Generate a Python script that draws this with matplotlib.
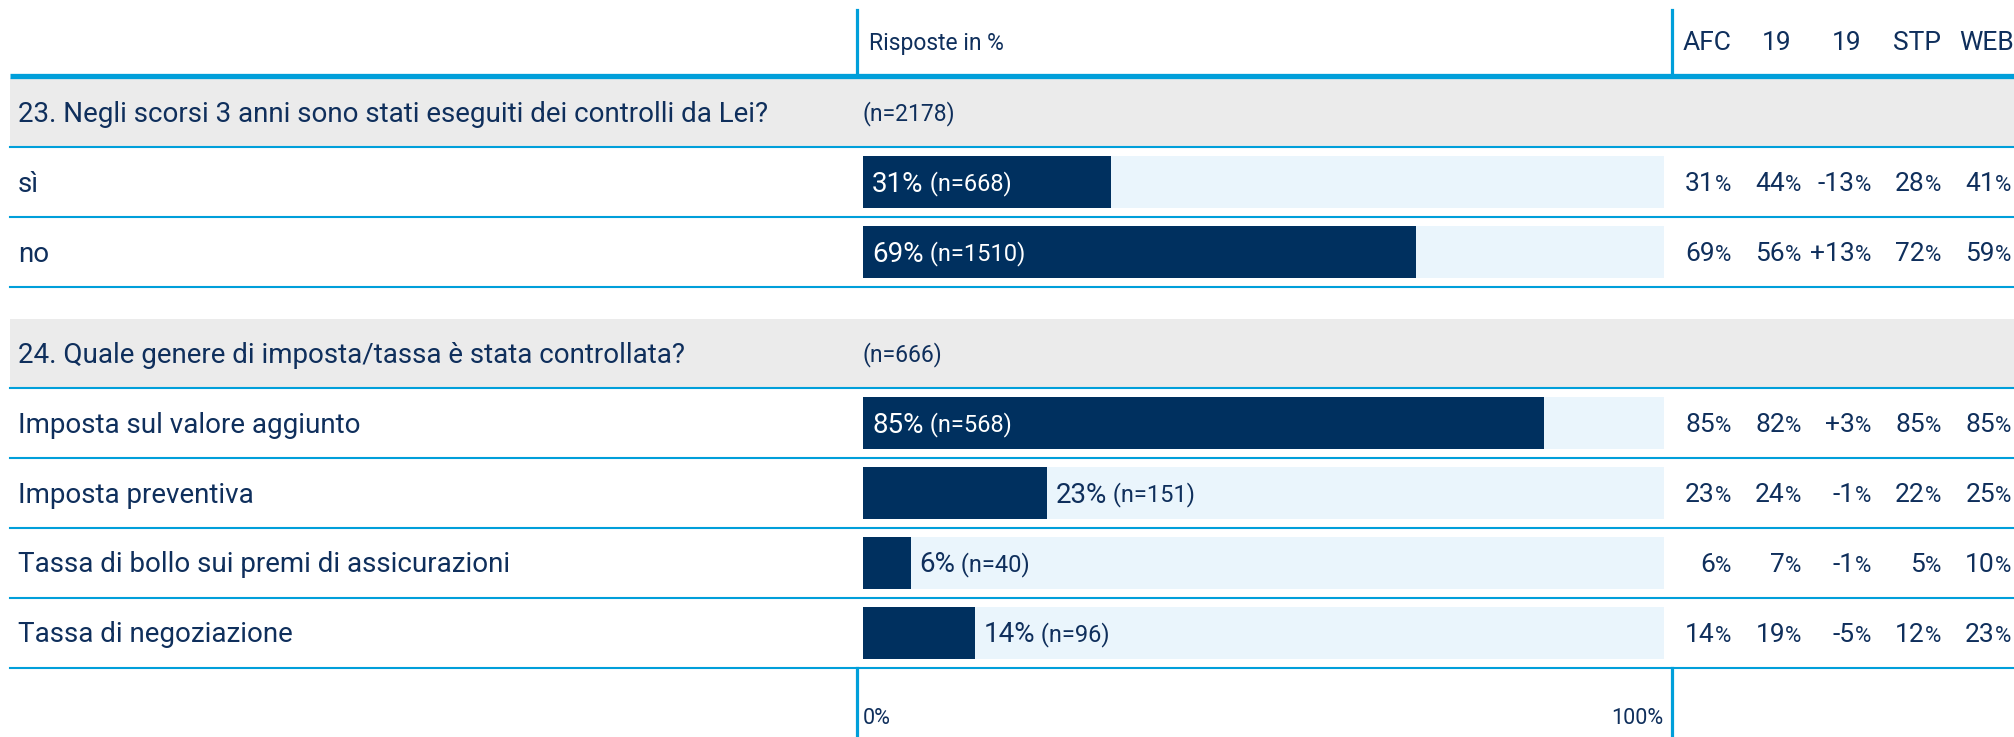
import matplotlib
matplotlib.use("Agg")
import matplotlib.pyplot as plt
from matplotlib import font_manager

# data
columns = ["AFC", "19", "19", "STP", "WEB"]

q23_title = "23. Negli scorsi 3 anni sono stati eseguiti dei controlli da Lei?"
q23_n = 2178
q23_labels = ["sì", "no"]
q23_pct = [31, 69]
q23_count = [668, 1510]
q23_cols = [[31, 44, -13, 28, 41],
            [69, 56, 13, 72, 59]]

q24_title = "24. Quale genere di imposta/tassa è stata controllata?"
q24_n = 666
q24_labels = ["Imposta sul valore aggiunto", "Imposta preventiva",
              "Tassa di bollo sui premi di assicurazioni", "Tassa di negoziazione"]
q24_pct = [85, 23, 6, 14]
q24_count = [568, 151, 40, 96]
q24_cols = [[85, 82, 3, 85, 85],
            [23, 24, -1, 22, 25],
            [6, 7, -1, 5, 10],
            [14, 19, -5, 12, 23]]

# styling
names = {f.name for f in font_manager.fontManager.ttflist}
fam = [f for f in ["Roboto", "DejaVu Sans"] if f in names]
plt.rcParams["font.family"] = fam

NAVY = "#00305f"
TXT = "#0f2f5c"
LIGHT = "#eaf5fc"
BLUE = "#009fda"
GREY = "#ebebeb"

W, H = 2015, 737
fig = plt.figure(figsize=(W / 100, H / 100), dpi=100)
ax = fig.add_axes([0, 0, 1, 1])
ax.set_xlim(0, W)
ax.set_ylim(H, 0)
ax.axis("off")

# bar axes: 0..100 % across the track
track_l, track_r = 863, 1664
bx = fig.add_axes([track_l / W, 0, (track_r - track_l) / W, 1])
bx.set_xlim(0, 100)
bx.set_ylim(H, 0)
bx.axis("off")

left, right = 10, W
col_x = [1707, 1777, 1847, 1917, 1987]
pitch, bar_h, band_h = 70, 52, 69

# header
ax.plot([857, 857], [10, 76], color=BLUE, lw=2.3)
ax.plot([1672, 1672], [10, 76], color=BLUE, lw=2.3)
ax.plot([left, right], [76, 76], color=BLUE, lw=3.8, solid_capstyle="butt")
ax.text(869, 43, "Risposte in %", fontsize=16.5, color=TXT, va="center")
for x, c in zip(col_x, columns):
    ax.text(x, 43, c, fontsize=19, color=TXT, va="center", ha="center")


def section(top, title, n, labels, pct, count, cols):
    ax.fill_between([left, right], top, top + band_h, color=GREY, lw=0)
    ax.text(18, top + band_h / 2 + 2, title, fontsize=20, color=TXT, va="center")
    ax.text(863, top + band_h / 2 + 1, f"(n={n})", fontsize=16.5, color=TXT, va="center")
    base = top + band_h
    ax.plot([left, right], [base, base], color=BLUE, lw=1.5)
    for i, (lab, p, k, vals) in enumerate(zip(labels, pct, count, cols)):
        yc = base + pitch / 2 + pitch * i
        bx.barh(yc, 100, height=bar_h, color=LIGHT, lw=0)
        bx.barh(yc, p, height=bar_h, color=NAVY, lw=0)
        ax.text(18, yc + 2, lab, fontsize=20, color=TXT, va="center")
        if p >= 25:
            t = bx.annotate(f"{p}%", (0, yc + 2), xytext=(6.5, 0), textcoords="offset points",
                            fontsize=20, color="white", va="center")
            col = "white"
        else:
            t = bx.annotate(f"{p}%", (p, yc + 2), xytext=(6, 0), textcoords="offset points",
                            fontsize=20, color=TXT, va="center")
            col = TXT
        bx.annotate(f" (n={k})", xy=(1, 0.5), xycoords=t, fontsize=17, color=col,
                    va="center")
        for j, (x, v) in enumerate(zip(col_x, vals)):
            s = f"{v:+d}" if j == 2 else f"{v}"
            ax.text(x + 8, yc + 2, s, fontsize=19, color=TXT, va="center", ha="right")
            ax.text(x + 8, yc + 3, "%", fontsize=16, color=TXT, va="center", ha="left")
        ax.plot([left, right], [base + pitch * (i + 1)] * 2, color=BLUE, lw=1.5)
    return base + pitch * len(labels)


section(78, q23_title, q23_n, q23_labels, q23_pct, q23_count, q23_cols)
bottom = section(319, q24_title, q24_n, q24_labels, q24_pct, q24_count, q24_cols)

# footer axis
ax.plot([857, 857], [bottom, H], color=BLUE, lw=2.3)
ax.plot([1672, 1672], [bottom, H], color=BLUE, lw=2.3)
ax.text(863, 718, "0%", fontsize=15.5, color=TXT, va="center")
ax.text(1663, 718, "100%", fontsize=15.5, color=TXT, va="center", ha="right")

fig.savefig("out.png", dpi=100)
